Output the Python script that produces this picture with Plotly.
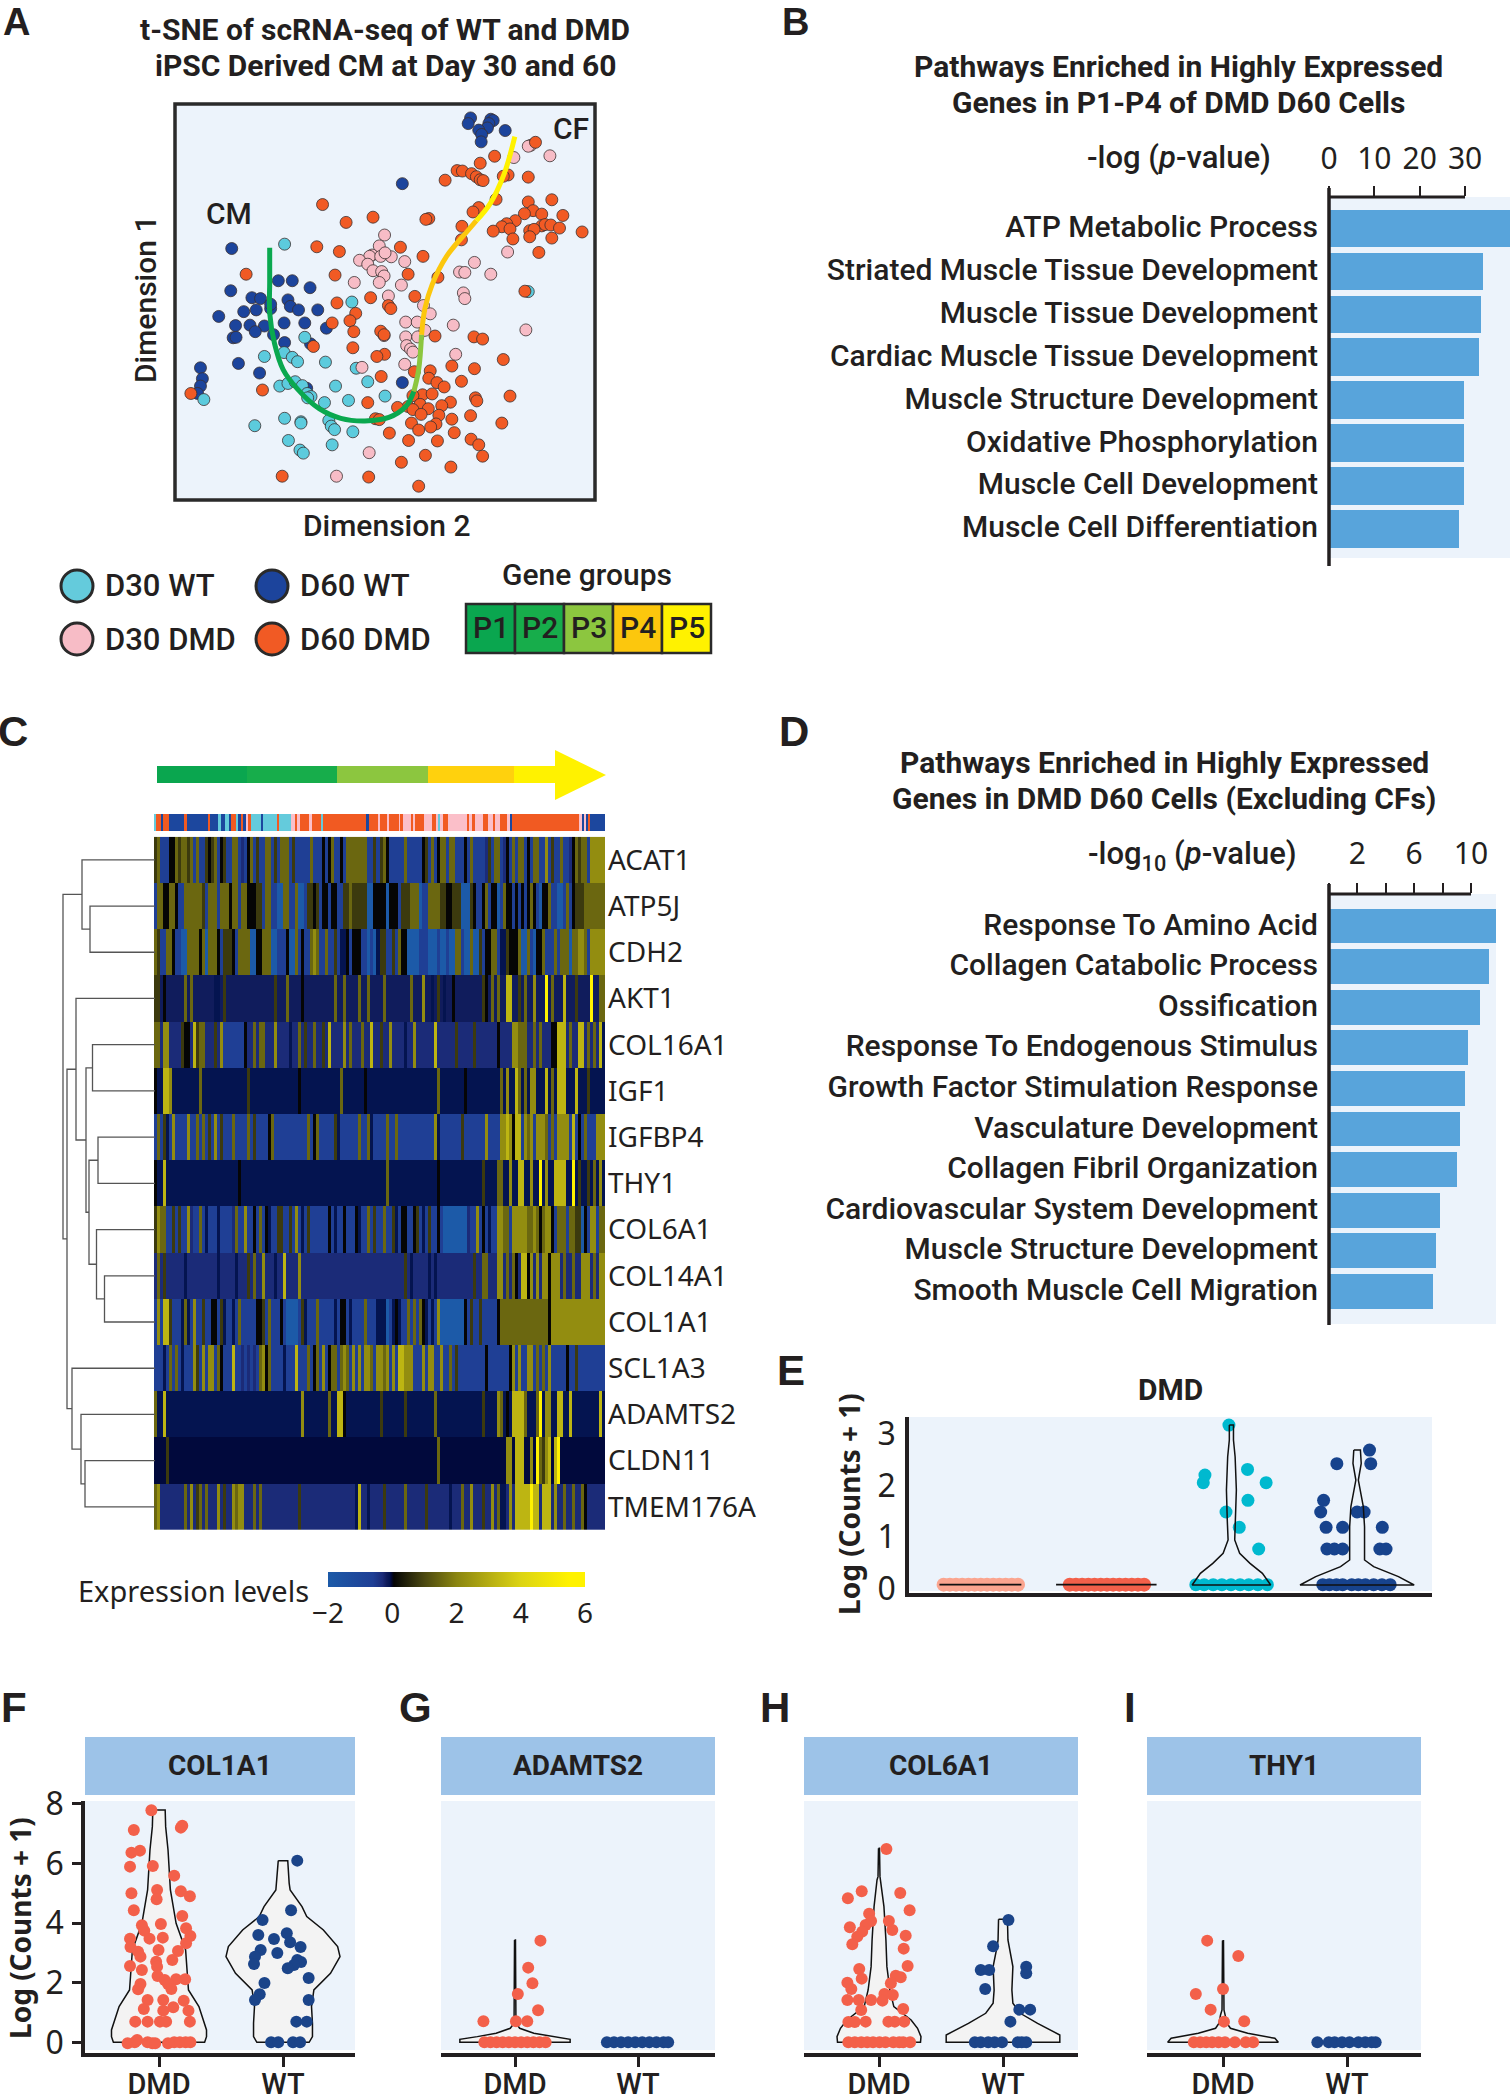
import numpy as np
import plotly.graph_objects as go

W, H = 1510, 2100
NARROW = "Roboto, sans-serif"
WIDE = "Noto Sans, Open Sans, sans-serif"
INK = "#231f20"
BG = "#ecf3fb"

# ---------- Panel A: t-SNE positions ----------
D60_WT = [(980,272),(975,285),(1022,275),(1027,278),(1018,285),(1015,295),(997,300),(1052,301),(1003,310),(1002,327),
          (838,423),(483,572),(580,646),(609,646),(646,662),(481,669),(525,685),(543,687),(600,690),(605,705),(622,713),
          (662,713),(508,717),(534,713),(564,710),(564,700),(456,728),(491,749),(521,748),(551,750),(592,743),(635,743),
          (532,763),(570,770),(680,755),(486,777),(492,776),(593,788),(647,791),(497,836),(541,858),(639,893),(838,880),
          (418,846),(422,871),(418,888),(412,905)]
D30_WT = [(593,562),(733,695),(1100,671),(635,776),(592,811),(551,820),(609,822),(620,832),(678,833),(742,847),(766,878),
          (699,888),(583,888),(600,882),(615,878),(630,887),(640,905),(648,912),(802,911),(726,921),(676,926),(641,915),
          (425,919),(593,962),(627,970),(627,973),(531,979),(685,967),(690,980),(697,988),(735,993),(601,1013),(692,1023),
          (625,1035),(632,1042)]
D30_DMD = [(1105,335),(1100,337),(1145,359),(1070,363),(801,541),(790,566),(775,587),(770,590),(793,590),(815,591),(802,582),
           (749,599),(766,608),(843,602),(777,623),(795,625),(800,635),(790,650),(738,650),(836,656),(1057,580),(988,604),
           (957,626),(968,627),(1022,631),(965,674),(968,687),(809,681),(882,703),(896,722),(845,741),(869,741),(944,748),
           (885,760),(845,775),(870,775),(1095,759),(800,772),(847,795),(855,803),(860,810),(949,815),(843,838),(754,845),
           (769,1041),(701,1095)]
D60_DMD = [(1115,328),(1030,360),(1000,376),(952,393),(963,394),(982,400),(992,407),(1000,414),(1006,416),(927,415),(1058,403),
           (1048,406),(1100,408),(1033,459),(1100,465),(1149,460),(672,471),(997,478),(985,488),(1110,485),(1092,492),(1128,493),
           (1172,496),(777,500),(893,503),(887,505),(721,512),(1073,508),(1055,515),(962,521),(1045,522),(1027,532),(1062,527),
           (1128,520),(1135,517),(1147,518),(1165,525),(1103,531),(1112,528),(1212,534),(1103,545),(1068,550),(1149,548),(961,552),
           (660,568),(707,579),(834,569),(1122,581),(881,590),(513,631),(850,631),(698,633),(912,638),(1093,670),(864,682),(772,685),
           (702,697),(809,703),(814,710),(741,721),(729,738),(692,743),(737,763),(793,762),(800,770),(906,773),(987,775),(1005,780),
           (653,797),(735,800),(801,815),(785,820),(1048,827),(941,842),(988,848),(863,855),(896,853),(794,866),(893,870),(910,880),
           (961,877),(925,890),(547,897),(880,908),(900,906),(860,910),(990,915),(993,922),(1062,911),(766,926),(938,925),(875,930),
           (920,933),(850,935),(828,937),(860,942),(892,940),(877,953),(914,955),(980,956),(782,963),(790,965),(857,973),(941,964),
           (1045,973),(908,975),(897,982),(872,989),(811,996),(946,995),(851,1013),(911,1014),(981,1010),(997,1023),(886,1047),
           (1005,1049),(836,1063),(939,1074),(588,1095),(768,1097),(872,1118),(398,905)]
TRAJ_P12 = [(562,570),(562,650),(562,720),(572,790),(590,850),(620,895),(665,940),(710,962),(760,968),(810,960),(845,935),(862,900)]
TRAJ_P3 = [(862,900),(872,850),(878,770)]
TRAJ_P4 = [(878,770),(885,710),(900,655),(930,590),(975,530),(992,508)]
TRAJ_P5 = [(992,508),(1020,470),(1050,400),(1072,315)]

# ---------- Panels B, D ----------
B_TERMS = ["ATP Metabolic Process","Striated Muscle Tissue Development","Muscle Tissue Development",
           "Cardiac Muscle Tissue Development","Muscle Structure Development","Oxidative Phosphorylation",
           "Muscle Cell Development","Muscle Cell Differentiation"]
B_VALUES = [40.0,33.9,33.5,33.1,29.8,29.8,29.8,28.6]
D_TERMS = ["Response To Amino Acid","Collagen Catabolic Process","Ossification","Response To Endogenous Stimulus",
           "Growth Factor Stimulation Response","Vasculature Development","Collagen Fibril Organization",
           "Cardiovascular System Development","Muscle Structure Development","Smooth Muscle Cell Migration"]
D_VALUES = [11.76,11.28,10.6,9.78,9.57,9.22,9.04,7.80,7.55,7.33]

# ---------- Panel C: heat map, one entry per stripe ----------
GENES = ["ACAT1","ATP5J","CDH2","AKT1","COL16A1","IGF1","IGFBP4","THY1","COL6A1","COL14A1","COL1A1","SCL1A3","ADAMTS2","CLDN11","TMEM176A"]
LEVELS = dict(a=-2.0,b=-0.6,c=-0.3,d=-0.18,e=-0.08,n=-0.04,f=0.05,g=0.8,h=1.5,i=2.2,j=3.2,k=5.6)
ROW_ACAT1 = "ghbbbffhghhghbhbbgfghbfgbbhhbcbfhbgbbhhbgbhhhbgbbbbbhbbbfbfhbbfbhhhhhhhbbgb"+"ghfbbbbbhbbbbbfgbhbfhhbhhbbbfbhbbbbcgbhhbcfbhbhhbfbhhbbibgbbhbbcfhghhbiiiii"
ROW_ATP5J = "bhhffhhfbbhhhhhhgbhhhbhhhfhhbhhfffggbhhbbaahhbbhaabggfgbffbffbbgghgggggaaff"+"ffafffbggghhhabbhhhhggffgggaaagfbbfhbffabhffbfbfbfhfbaffhbbaabhbfggghhhhhhh"
ROW_CDH2 = "hgbbhhfbbaahhhhfhahhhfbgggfbhhhhaaffhhhaabbbfaahbfbbhihbbhbbgbeefbfffbbabae"+"ggbbgbhffaaaabbbaaabaabaahhbaahaagbffhhbeegfffhaahbaffhbbbhbhhhahhiihbiiiii"
S_AKT1 = [(0,'g'),(1,'g'),(3,'f'),(10,'h'),(12,'h'),(20,'e'),(21,'e'),(23,'g'),(40,'g'),(44,'h'),(49,'f'),(60,'h'),(63,'h'),(68,'h'),(71,'h'),
          (76,'h'),(85,'h'),(89,'i'),(92,'e'),(94,'g'),(96,'e'),(99,'f'),(109,'g'),(110,'f'),(112,'h'),(114,'h'),(117,'j'),(118,'j'),(121,'g'),
          (123,'h'),(126,'i'),(130,'k'),(132,'h'),(136,'j'),(140,'g'),(145,'k'),(148,'h'),(149,'h')]
S_COL16A1 = [(0,'h'),(1,'h'),(3,'i'),(4,'i'),(9,'g'),(10,'f'),(11,'f'),(13,'j'),(14,'g'),(15,'h'),(16,'h'),(20,'g'),(22,'i'),(23,30,'b'),(30,'f'),(33,'h'),(35,'h'),
             (36,'h'),(40,'i'),(45,'e'),(48,'h'),(50,'g'),(53,'h'),(56,'g'),(58,'j'),(63,'i'),(65,'h'),(69,'h'),(72,'j'),(75,'g'),(78,'i'),(83,'e'),(86,'i'),
             (93,'j'),(100,'g'),(106,'g'),(114,'f'),(119,'i'),(120,'i'),(121,'h'),(122,'h'),(123,'h'),(126,'h'),(128,'h'),(132,'f'),(133,'f'),(134,'j'),(135,'j'),
             (136,'j'),(138,'h'),(141,'j'),(142,'j'),(144,'h'),(146,'h'),(148,'j'),(149,'e')]
S_IGF1 = [(0,'f'),(3,'j'),(4,'j'),(5,'i'),(15,'h'),(31,'g'),(48,'f'),(62,'h'),(70,'f'),(94,'h'),(103,'f'),(115,'h'),(117,'i'),(120,'j'),(121,'h'),(123,'h'),(125,'i'),
          (126,'i'),(130,'j'),(132,'h'),(134,'j'),(135,'j'),(136,'j'),(140,'j'),(144,'g')]
S_IGFBP4 = [(1,'h'),(3,'g'),(4,'e'),(6,'i'),(11,'i'),(14,'h'),(16,'h'),(18,'g'),(20,'i'),(22,'g'),(26,'h'),(31,'h'),(33,'g'),(38,'f'),(39,'h'),(51,'h'),(53,'f'),(54,'h'),
            (60,'g'),(61,'e'),(68,'h'),(71,'h'),(72,'e'),(77,'h'),(80,'h'),(93,'i'),(94,'e'),(102,'g'),(110,'i'),(115,'i'),(116,'i'),(117,'j'),(118,'i'),(119,'f'),
            (120,'j'),(121,'j'),(123,'i'),(124,'h'),(125,'i'),(127,'i'),(128,'i'),(129,'i'),(130,'h'),(132,'h'),(134,'i'),(135,'i'),(136,'i'),(137,'i'),(139,'j'),
            (141,'f'),(143,'h'),(147,'i'),(148,'i'),(149,'i')]
S_THY1 = [(0,'f'),(3,'j'),(28,'f'),(77,'h'),(94,'f'),(109,'g'),(114,'h'),(115,'h'),(118,'i'),(121,'j'),(122,'j'),(125,'i'),(128,'k'),(130,'i'),(133,'j'),(134,'j'),
          (135,'j'),(136,'j'),(139,'k'),(141,'g'),(144,'g'),(146,'h'),(148,'i')]
S_COL6A1 = [(0,'g'),(1,'i'),(2,'h'),(3,'h'),(6,'g'),(8,'g'),(11,'i'),(12,'c'),(15,'h'),(17,'e'),(21,'e'),(26,'c'),(27,'h'),(30,'i'),(33,'f'),(35,'h'),(37,'f'),(38,'e'),
            (41,'g'),(42,'g'),(45,'g'),(47,'i'),(49,'e'),(51,'g'),(58,'f'),(60,'e'),(63,'f'),(67,'f'),(68,'e'),(71,'h'),(73,'g'),(76,'h'),(79,'g'),(80,'e'),(82,'f'),
            (83,'f'),(86,'f'),(87,'g'),(89,'e'),(91,'g'),(94,'f'),(96,104,'a'),(104,'c'),(107,'i'),(109,'f'),(111,'e'),(114,'i'),(115,'i'),(116,'h'),(117,'h'),
            (119,124,'i'),(124,'h'),(125,'h'),(126,'i'),(127,'h'),(128,'f'),(129,'h'),(130,'i'),(131,'i'),(132,'f'),(134,'h'),(135,'h'),(136,'h'),(138,'h'),(139,'h'),
            (140,'g'),(141,'g'),(142,'a'),(143,'f'),(145,'i'),(146,'i'),(148,'h'),(149,'h')]
S_COL14A1 = [(1,'h'),(3,'g'),(10,'e'),(21,'e'),(27,'e'),(31,'g'),(33,'h'),(36,'i'),(40,'e'),(43,'j'),(48,'i'),(83,'g'),(85,'e'),(91,'e'),(93,'e'),(106,'g'),(109,'h'),(110,'h'),
             (114,'i'),(115,'i'),(117,'h'),(119,'h'),(120,'f'),(122,'j'),(123,'j'),(124,'f'),(125,'i'),(127,'i'),(129,'i'),(130,'i'),(131,'f'),(132,'i'),(133,'i'),
             (134,'i'),(136,'h'),(139,'h'),(142,'i'),(143,'i'),(144,'i'),(146,'h'),(148,'i'),(149,'i')]
S_COL1A1 = [(1,'i'),(3,'j'),(4,'j'),(5,'g'),(9,'e'),(10,'h'),(11,'e'),(13,'i'),(16,'g'),(19,'f'),(20,'f'),(22,'g'),(23,'e'),(26,'e'),(28,'h'),(34,'f'),(35,'f'),(36,'g'),(38,'h'),
            (42,'f'),(44,48,'a'),(49,'g'),(50,'e'),(54,'h'),(60,'e'),(62,'f'),(63,'f'),(65,'e'),(70,'h'),(74,'e'),(75,'e'),(76,'e'),(77,'a'),(79,'e'),(80,'f'),(81,'e'),
            (84,'h'),(86,'h'),(88,'h'),(89,'f'),(90,'e'),(92,'e'),(94,'i'),(95,103,'a'),(103,'f'),(105,'g'),(108,'g'),(114,'f'),(115,131,'h'),(131,'f'),(132,150,'i')]
S_SCL1A3 = [(3,'e'),(5,'h'),(7,'h'),(9,'e'),(13,'i'),(14,'g'),(16,'i'),(18,'i'),(19,'i'),(21,'h'),(22,'f'),(26,'j'),(29,'c'),(31,'c'),(33,'c'),(35,'h'),(36,'i'),(37,'f'),(38,'h'),
            (43,'e'),(47,'j'),(51,'h'),(53,'f'),(54,'h'),(56,'i'),(58,'f'),(59,'h'),(60,'h'),(62,'h'),(63,'i'),(64,'h'),(66,'i'),(68,'i'),(70,'i'),(71,'i'),(72,'h'),(74,'i'),
            (75,'i'),(76,'h'),(77,'i'),(79,'i'),(81,'j'),(82,'j'),(83,'i'),(84,'i'),(85,'i'),(89,'i'),(91,'i'),(92,'i'),(95,'i'),(98,'h'),(100,'g'),(110,'f'),(118,'f'),
            (119,'i'),(121,'i'),(124,'i'),(125,'i'),(127,'h'),(129,'h'),(131,'i'),(137,'f'),(140,'g')]
S_ADAMTS2 = [(0,'h'),(3,'j'),(49,'i'),(58,'h'),(61,'j'),(62,'j'),(63,'f'),(75,'g'),(83,'g'),(93,'h'),(109,'g'),(114,'i'),(115,'h'),(117,'f'),(119,'j'),(120,'j'),(121,'j'),(122,'j'),
             (123,'h'),(127,'h'),(128,'k'),(130,'i'),(131,'i'),(134,'j'),(135,'j'),(138,'j'),(148,'j')]
S_CLDN11 = [(4,'g'),(94,'h'),(117,'i'),(118,'i'),(120,'j'),(121,'j'),(122,'j'),(125,'i'),(127,'k'),(128,'h'),(129,'g'),(130,'i'),(131,'j'),(133,'j'),(134,'k')]
S_TMEM176A = [(0,'h'),(1,'i'),(10,'h'),(12,'i'),(14,'g'),(15,'h'),(17,'h'),(21,'i'),(23,'g'),(26,'i'),(27,'h'),(28,'i'),(29,'i'),(33,'h'),(35,'h'),(48,'g'),(67,'e'),(68,'j'),(71,'e'),
              (76,'g'),(83,'h'),(90,'g'),(98,'e'),(102,'h'),(105,'i'),(109,'g'),(112,'i'),(114,'h'),(115,'e'),(116,'e'),(118,'i'),(120,'j'),(121,'j'),(122,'j'),(123,'j'),
              (124,'j'),(125,'k'),(126,'j'),(127,'j'),(129,'j'),(130,'j'),(131,'j'),(133,'i'),(136,'h'),(139,'h'),(142,'h'),(143,'f')]
STRIP_CODES = list("WONONONONWNWNOWNONLOWNWOWLOLOLOWONOLO"+"OLOLOLOLOLLOLWLOLOLOLOLOLOLNOLNLNON")
STRIP_RUNS = [5,15,7,18,45,7,63,7,23,10,12,10,8,13,7,7,8,7,8,8,30,7,40,7,36,12,5,7,28,10,25,8,127,7,28,7,6,
              15,5,28,4,8,25,5,7,28,5,17,13,5,7,8,15,55,8,7,10,25,13,15,7,15,20,8,7,200,7,6,7,6,4,46]
STRIP_COLORS = {"W":"#64cbdc","L":"#fbbfc9","N":"#1c479e","O":"#f15a22"}
DENDRO = (126,(164,0,(180,1,2)),
          (134,(152,3,(172,(185,4,5),(178,(196,6,7),(193,8,(209,9,10))))),
           (144,11,(162,12,(170,13,14)))))

# ---------- Panel E ----------
E_SALMON = [(x,734) for x in (345,360,375,390,405,420,435,450,465,480,495,510,525)]
E_RED = [(x,734) for x in (650,665,680,695,710,725,740,755,770,785,800,815,830)]
E_CYAN = [(1035,255),(977,405),(973,428),(1080,388),(1125,428),(1081,481),(1028,516),(1060,562),(1107,627),
          (955,734),(975,734),(997,734),(1018,734),(1040,734),(1062,734),(1083,734),(1105,734),(1128,734)]
E_NAVY = [(1375,330),(1296,371),(1378,371),(1264,481),(1257,516),(1345,516),(1362,516),(1270,562),(1310,562),(1406,562),
          (1272,627),(1290,627),(1310,627),(1400,627),(1415,627),(1262,734),(1278,734),(1295,734),(1310,734),(1332,734),
          (1348,734),(1365,734),(1385,734),(1405,734),(1425,734)]
E_V3_Y = [255,300,350,450,540,600,640,670,700,735]
E_V3_W = [5,5,9,12,10,8,20,45,75,95]
E_V4_Y = [330,370,420,500,560,660,680,710,735]
E_V4_W = [8,10,3,15,18,18,40,100,138]

# ---------- Panels F-I ----------
F_DMD = [(320,361),(283,420),(382,413),(385,407),(296,482),(278,488),(275,530),(323,528),(368,557),(278,610),(332,600),(382,604),
         (401,619),(331,628),(283,661),(385,678),(340,702),(300,706),(305,722),(393,715),(402,738),(344,743),(275,746),(316,746),
         (393,760),(276,771),(335,780),(376,783),(292,785),(297,800),(364,810),(275,828),(330,815),(332,830),(300,840),(333,858),
         (348,870),(372,868),(391,868),(355,882),(297,882),(292,898),(362,897),(312,930),(345,930),(388,932),(366,952),(304,957),
         (345,962),(398,962),(286,995),(312,995),(338,995),(351,995),(401,995),(270,1060),(285,1057),(290,1050),(312,1057),(322,1060),
         (328,1060),(355,1060),(368,1057),(380,1057),(392,1057),(402,1057)]
F_WT = [(627,512),(614,661),(554,690),(605,730),(545,735),(578,747),(612,757),(634,771),(550,780),(585,789),(538,800),(536,822),
        (627,810),(635,816),(620,825),(607,835),(651,864),(558,879),(548,913),(538,930),(651,930),(625,995),(647,995),(572,1057),
        (587,1057),(618,1057),(633,1057)]
F_V1_Y = [360,410,480,600,700,780,900,950,1020,1040,1057]
F_V1_W = [13,14,19,24,36,56,62,84,100,100,96]
F_V2_Y = [512,580,600,650,680,720,770,800,850,900,950,1000,1040,1057]
F_V2_W = [10,13,15,40,50,85,115,120,100,65,60,62,62,55]
G_DMD = [(1144,752),(1118,833),(1127,880),(1096,912),(1139,961),(1023,994),(1092,994),(1116,994)] + [(x,1057) for x in (1025,1038,1051,1064,1077,1090,1103,1116,1129,1142,1155)]
G_WT = [(x,1057) for x in (1285,1300,1315,1330,1345,1360,1375,1390,1405,1415)]
G_V1_Y = [750,1000,1015,1030,1040,1048,1057]
G_V1_W = [1,2,10,40,80,117,117]
H_DMD = [(299,477),(249,604),(327,609),(221,625),(346,661),(264,671),(268,693),(304,693),(225,712),(257,705),(250,725),(311,720),
         (338,737),(240,740),(230,763),(334,776),(342,828),(244,837),(249,866),(318,857),(328,862),(220,878),(308,880),(228,897),
         (295,912),(312,915),(220,930),(243,930),(268,930),(291,932),(248,960),(333,957),(222,996),(235,996),(257,995),(303,995),
         (316,995),(335,995)] + [(x,1057) for x in (222,235,248,260,272,285,297,313,325,333,347)]
H_WT = [(546,690),(515,769),(490,840),(507,840),(582,830),(582,850),(499,897),(568,959),(590,959),(550,995)] + [(x,1057) for x in (478,490,505,518,533,565,573,582)]
H_V1_Y = [475,560,570,650,750,830,900,950,990,1015,1040,1057]
H_V1_W = [1,2,4,10,14,16,22,30,65,78,85,84]
H_V2_Y = [688,750,770,830,900,940,970,1000,1035,1050,1057]
H_V2_W = [9,10,12,20,18,20,35,70,115,115,115]
I_DMD = [(952,752),(1015,798),(984,897),(929,912),(959,959),(986,995),(1027,994)] + [(x,1057) for x in (925,938,950,962,975,988,1008,1030,1045)]
I_WT = [(x,1057) for x in (1175,1198,1210,1225,1240,1258,1272,1285,1293)]
I_V1_Y = [752,960,975,1000,1015,1030,1045,1057]
I_V1_W = [1,2,5,8,15,50,105,112]

# ---------- helpers ----------
fig = go.Figure()
ann, shp = [], []
layout_axes = {}
counter = [0]

def px(x): return x / W
def py(y): return 1 - y / H

def axes(x0, x1, y0, y1, xkw=None, ykw=None):
    counter[0] += 1
    n = counter[0]
    s = "" if n == 1 else str(n)
    base = dict(showgrid=False, zeroline=False, showline=False, showticklabels=False, ticks="")
    xa = dict(base, domain=[px(x0), px(x1)], anchor="y"+s); xa.update(xkw or {})
    ya = dict(base, domain=[py(y1), py(y0)], anchor="x"+s); ya.update(ykw or {})
    layout_axes["xaxis"+s] = xa
    layout_axes["yaxis"+s] = ya
    return "x"+s, "y"+s

def T(x, y, text, size, bold=False, anchor="center", angle=0, family=NARROW, color=INK):
    f = dict(size=size, family=family, color=color)
    if not bold and family == NARROW:
        f["weight"] = 500
    ann.append(dict(x=px(x), y=py(y), xref="paper", yref="paper", text="<b>%s</b>" % text if bold else text, showarrow=False,
                    xanchor=anchor, yanchor="middle", textangle=angle, font=f))

def rect(x0, y0, x1, y1, fill=None, line=None, lw=0, layer="below", kind="rect"):
    shp.append(dict(type=kind, xref="paper", yref="paper", x0=px(x0), x1=px(x1), y0=py(y0), y1=py(y1), layer=layer,
                    fillcolor=fill if fill else "rgba(0,0,0,0)", line=dict(color=line if line else "rgba(0,0,0,0)", width=lw)))

def hline(x0, x1, y, lw, color=INK): rect(x0, y, x1, y, line=color, lw=lw, layer="above", kind="line")
def vline(x, y0, y1, lw, color=INK): rect(x, y0, x, y1, line=color, lw=lw, layer="above", kind="line")

# ---------- A ----------
ax = axes(175, 597, 104, 501, dict(range=[365,1243]), dict(range=[1152,240]))
rect(175, 104, 595, 500, fill=BG)
for pts, col in ((D60_WT,"#1c449c"),(D30_WT,"#5ccbdd"),(D30_DMD,"#f7bcc6"),(D60_DMD,"#f15a24")):
    fig.add_trace(go.Scatter(x=[p[0] for p in pts], y=[p[1] for p in pts], mode="markers", xaxis=ax[0], yaxis=ax[1],
                             marker=dict(size=12, color=col, line=dict(color="#3a3030", width=0.8))))
for pts, col in ((TRAJ_P12,"#0aa84f"),(TRAJ_P3,"#8cc63f"),(TRAJ_P4,"#fcc70d"),(TRAJ_P5,"#fff200")):
    fig.add_trace(go.Scatter(x=[p[0] for p in pts], y=[p[1] for p in pts], mode="lines", xaxis=ax[0], yaxis=ax[1],
                             line=dict(color=col, width=5, shape="spline", smoothing=1.0)))
rect(175, 104, 595, 500, line="#2a2a2a", lw=3.5, layer="above")
T(385, 30, "t-SNE of scRNA-seq of WT and DMD", 30, True)
T(385, 65, "iPSC Derived CM at Day 30 and 60", 30, True)
T(386, 525, "Dimension 2", 30)
T(146, 300, "Dimension 1", 30, angle=-90)
T(229, 213, "CM", 30); T(571, 128, "CF", 30)
for cx, cy, col, lab in ((77,586,"#64cbdc","D30 WT"),(272,586,"#1c449c","D60 WT"),(77,639,"#f7bcc6","D30 DMD"),(272,639,"#f15a24","D60 DMD")):
    rect(cx-16, cy-16, cx+16, cy+16, fill=col, line="#2a2a2a", lw=3, kind="circle")
    T(cx+26, cy, lab, 31, anchor="left")
T(587, 574, "Gene groups", 30)
for i, (col, lab) in enumerate(zip(("#0aa64f","#17ad4b","#8cc63f","#fcc70d","#fff200"),("P1","P2","P3","P4","P5"))):
    rect(466+49*i, 604, 515+49*i, 653, fill=col, line="#2a2a2a", lw=2.5)
    T(490.5+49*i, 628, lab, 30)

# ---------- B, D ----------
def bars(x0, x1, y0, y1, xmax, terms, vals, step, first, tv, minor_tv, standoff, width):
    ymin = (y0-first)/step; ymax = (y1-first)/step
    xkw = dict(range=[0,xmax], side="top", ticks="outside", ticklen=10, tickwidth=2, tickcolor=INK, tickvals=tv,
               showticklabels=True, ticklabelstandoff=standoff, tickfont=dict(size=30, family=WIDE, color=INK))
    if minor_tv:
        xkw["minor"] = dict(tickvals=minor_tv, ticks="outside", ticklen=10, tickwidth=2, tickcolor=INK)
    ax = axes(x0, x1, y0, y1, xkw,
              dict(type="category", categoryorder="array", categoryarray=terms, range=[ymax,ymin], showticklabels=True, ticks="outside",
                   ticklen=4, tickcolor="rgba(0,0,0,0)", ticklabelshift=2, tickfont=dict(size=30, family=NARROW, color=INK, weight=500)))
    rect(x0, y0, x1, y1, fill=BG)
    fig.add_trace(go.Bar(x=vals, y=terms, orientation="h", xaxis=ax[0], yaxis=ax[1], width=width,
                         marker=dict(color="#58a4db", line=dict(width=0))))
    return ax

bars(1329, 1510, 197, 558, 39.9, B_TERMS, B_VALUES, 42.9, 228.5, [0,10,20,30], None, 5, 0.875)
hline(1328, 1465, 197, 3); vline(1329, 188, 566, 3.5)
T(1178, 67, "Pathways Enriched in Highly Expressed", 30, True)
T(1178, 103, "Genes in P1-P4 of DMD D60 Cells", 30, True)
T(1179, 158, "-log (<i>p</i>-value)", 31)

bars(1329, 1496, 894, 1324, 11.76, D_TERMS, D_VALUES, 40.6, 926, [2,6,10], [0,4,8], 7, 0.857)
hline(1328, 1471, 894, 3); vline(1329, 884, 1325, 3.5)
T(1164, 763, "Pathways Enriched in Highly Expressed", 30, True)
T(1164, 799, "Genes in DMD D60 Cells (Excluding CFs)", 30, True)
T(1192, 855, "-log<sub>10</sub> (<i>p</i>-value)", 31)

# ---------- C ----------
def stripes(base, items, n=150):
    row = [base]*n
    for it in items:
        if len(it) == 2:
            row[it[0]] = it[1]
        else:
            row[it[0]:it[1]] = [it[2]]*(it[1]-it[0])
    return "".join(row)

def dense(s, n=150):
    return s[:n].ljust(n, s[-1])

rows = [dense(ROW_ACAT1), dense(ROW_ATP5J), dense(ROW_CDH2), stripes("d",S_AKT1), stripes("c",S_COL16A1), stripes("e",S_IGF1),
        stripes("b",S_IGFBP4), stripes("e",S_THY1), stripes("b",S_COL6A1), stripes("c",S_COL14A1), stripes("b",S_COL1A1),
        stripes("b",S_SCL1A3), stripes("e",S_ADAMTS2), stripes("n",S_CLDN11), stripes("c",S_TMEM176A)]
Z = [[LEVELS[c] for c in r] for r in rows]
def pos(v): return (v+2)/8
SCALE = [[pos(-2),"#1c5aa8"],[pos(-0.6),"#1f3f95"],[pos(-0.3),"#1b2b78"],[pos(-0.18),"#101c5c"],[pos(-0.08),"#041450"],[pos(-0.04),"#01093c"],
         [pos(0.05),"#050505"],[pos(1),"#4b4810"],[pos(2),"#8a8510"],[pos(3),"#b5ad12"],[pos(4),"#dcd412"],[pos(5.5),"#fff200"],[pos(6),"#fff200"]]
ax = axes(154, 605, 836.7, 1530, dict(range=[-0.5,149.5]),
          dict(range=[14.5,-0.5], side="right", tickvals=list(range(15)), ticktext=GENES, showticklabels=True,
               ticklabelstandoff=2, tickfont=dict(size=28, family=WIDE, color=INK)))
fig.add_trace(go.Heatmap(z=Z, xaxis=ax[0], yaxis=ax[1], zmin=-2, zmax=6, colorscale=SCALE, hoverinfo="skip",
                         colorbar=dict(orientation="h", x=px(328), xanchor="left", y=py(1572), yanchor="top", len=(585-328)/W, lenmode="fraction",
                                       thickness=15, xpad=0, ypad=0, outlinewidth=0, tickvals=[-2,0,2,4,6], ticks="outside", ticklen=3,
                                       tickcolor="rgba(0,0,0,0)", tickfont=dict(size=28, family=WIDE, color=INK))))
T(193, 1590, "Expression levels", 29, family=WIDE)

cols_order = ["W","L","N","O"]
n_runs = min(len(STRIP_CODES), len(STRIP_RUNS))
edges = np.concatenate([[0], np.cumsum(STRIP_RUNS[:n_runs])])
ax = axes(154, 605, 814, 831, dict(range=[0, float(edges[-1])]), dict(range=[-0.5,0.5]))
zs = [[cols_order.index(c) for c in STRIP_CODES[:n_runs]]]
cs = []
for i, c in enumerate(cols_order):
    cs += [[i/4, STRIP_COLORS[c]], [(i+1)/4, STRIP_COLORS[c]]]
fig.add_trace(go.Heatmap(z=zs, x=edges.tolist(), xaxis=ax[0], yaxis=ax[1], zmin=-0.5, zmax=3.5, colorscale=cs, showscale=False, hoverinfo="skip"))

# gene-group arrow
for x0, x1, col in ((157,247,"#0aa64f"),(247,337,"#17ad4b"),(337,428,"#8cc63f"),(428,514,"#ffd10d"),(514,556,"#fff200")):
    rect(x0, 766, x1, 783, fill=col)
shp.append(dict(type="path", xref="paper", yref="paper", layer="below", fillcolor="#fff200", line=dict(width=0),
                path="M %f %f L %f %f L %f %f Z" % (px(555),py(750),px(606),py(775),px(555),py(800))))

# dendrogram
ax = axes(40, 155, 836.7, 1530, dict(range=[80,310]), dict(range=[14.5,-0.5]))
dx, dy = [], []
def walk(node):
    if isinstance(node, int):
        return node, 310
    h, a, b = node
    ya, xa = walk(a); yb, xb = walk(b)
    dx.extend([xa, h, h, xb, None]); dy.extend([ya, ya, yb, yb, None])
    return (ya+yb)/2, h
walk(DENDRO)
fig.add_trace(go.Scatter(x=dx, y=dy, mode="lines", xaxis=ax[0], yaxis=ax[1], line=dict(color="#555555", width=1.3)))

# ---------- E ----------
E_STEP = 125.7
def ex(z): return (z-433)/304
def ey(z): return (745-z)/154.3
ax = axes(909, 1432, 1417, 1593, dict(range=[(909-980)/E_STEP,(1432-980)/E_STEP], showline=True, linecolor=INK, linewidth=3.5),
          dict(range=[(1588.3-1593)/51.4,(1588.3-1417)/51.4], tickvals=[0,1,2,3], showticklabels=True, showline=True, linecolor=INK, linewidth=3.5,
               ticks="outside", ticklen=3, tickcolor="rgba(0,0,0,0)", tickfont=dict(size=32, family=WIDE, color=INK)))
rect(909, 1417, 1432, 1591, fill=BG)
for pts, col, sz in ((E_SALMON,"#fba58f",14),(E_RED,"#f3604a",14),(E_CYAN,"#00b9cf",13),(E_NAVY,"#17438d",13)):
    fig.add_trace(go.Scatter(x=[ex(p[0]) for p in pts], y=[ey(p[1]) for p in pts], mode="markers", xaxis=ax[0], yaxis=ax[1],
                             marker=dict(size=sz, color=col)))
for z0, z1 in ((335,533),(617,860)):
    fig.add_trace(go.Scatter(x=[ex(z0),ex(z1)], y=[ey(734),ey(734)], mode="lines", xaxis=ax[0], yaxis=ax[1], line=dict(color="#111", width=1.8)))

def violin(ax, center, step, ys, ws, conv, fill):
    yy = [conv(v) for v in ys]
    xr = [center + w/step for w in ws]
    xl = [center - w/step for w in ws]
    fig.add_trace(go.Scatter(x=xl+xr[::-1]+[xl[0]], y=yy+yy[::-1]+[yy[0]], mode="lines", fill="toself", fillcolor=fill,
                             xaxis=ax[0], yaxis=ax[1], line=dict(color="#111", width=1.5)))
violin(ax, 2, 304, E_V3_Y, E_V3_W, ey, "rgba(0,0,0,0)")
violin(ax, 3, 304, E_V4_Y, E_V4_W, ey, "rgba(0,0,0,0)")
T(1170, 1389, "DMD", 30, True)
T(849, 1504, "Log (Counts + 1)", 28, True, angle=-90, family=WIDE)

# ---------- F - I ----------
RED, NAVY, VFILL = "#f3604a", "#1b4489", "#f3f3f3"
def gy(z): return (1057-z)/89.4
def panel(name, x0, x1, xdmd, xwt, zdmd, zwt, zstep, dmd, wt, viol, first):
    step = xwt-xdmd
    ykw = dict(range=[(2042.3-2053)/29.8,(2042.3-1801)/29.8])
    if first:
        ykw.update(tickvals=[0,2,4,6,8], showticklabels=True, showline=True, linecolor=INK, linewidth=3.5, ticks="outside", ticklen=9, tickwidth=2.5,
                   tickcolor=INK, ticklabelstandoff=2, tickfont=dict(size=32, family=WIDE, color=INK))
    ax = axes(x0, x1, 1801, 2053,
              dict(range=[(x0-xdmd)/step,(x1-xdmd)/step], tickvals=[0,1], ticktext=["DMD","WT"], showticklabels=True, showline=True, linecolor=INK, linewidth=3.5,
                   ticks="outside", ticklen=2, tickwidth=2.5, tickcolor=INK, ticklabelstandoff=0,
                   minor=dict(tickvals=[0,1], ticks="outside", ticklen=10, tickwidth=2.5, tickcolor=INK),
                   tickfont=dict(size=29, family=NARROW, color=INK, weight=500)),
              ykw)
    rect(x0, 1801, x1, 2050, fill=BG)
    rect(x0, 1737, x1, 1795, fill="#9dc3e8")
    T((x0+x1)/2, 1765, name, 28, True)
    for c, ys, ws in viol:
        violin(ax, c, zstep, ys, ws, gy, VFILL)
    for pts, col, c, zc in ((dmd,RED,0,zdmd),(wt,NAVY,1,zwt)):
        fig.add_trace(go.Scatter(x=[c+(p[0]-zc)/zstep for p in pts], y=[gy(p[1]) for p in pts], mode="markers", xaxis=ax[0], yaxis=ax[1],
                                 marker=dict(size=12, color=col)))

panel("COL1A1", 85, 355, 159, 283, 336, 597, 261, F_DMD, F_WT, [(0,F_V1_Y,F_V1_W),(1,F_V2_Y,F_V2_W)], True)
panel("ADAMTS2", 441, 715, 515, 638, 1090, 1351, 261, G_DMD, G_WT, [(0,G_V1_Y,G_V1_W)], False)
panel("COL6A1", 804, 1078, 879, 1003, 284, 535, 251, H_DMD, H_WT, [(0,H_V1_Y,H_V1_W),(1,H_V2_Y,H_V2_W)], False)
panel("THY1", 1147, 1421, 1223, 1347, 984, 1235, 251, I_DMD, I_WT, [(0,I_V1_Y,I_V1_W)], False)
T(20, 1928, "Log (Counts + 1)", 28, True, angle=-90, family=WIDE)

for lab, x, y, sz in (("A",16,22,38),("B",795,22,38),("C",13,732,42),("D",794,732,42),("E",791,1371,42),("F",14,1707,42),("G",415,1707,42),("H",775,1707,42),("I",1130,1707,42)):
    T(x, y, lab, sz, True, family="Liberation Sans, sans-serif")

fig.update_layout(width=W, height=H, margin=dict(l=0,r=0,t=0,b=0,pad=0,autoexpand=False), showlegend=False, paper_bgcolor="white",
                  plot_bgcolor="rgba(0,0,0,0)", annotations=ann, shapes=shp, bargap=0, **layout_axes)
fig.write_html("out.html", config={"displayModeBar": False}, post_script="document.body.style.margin='0';")
